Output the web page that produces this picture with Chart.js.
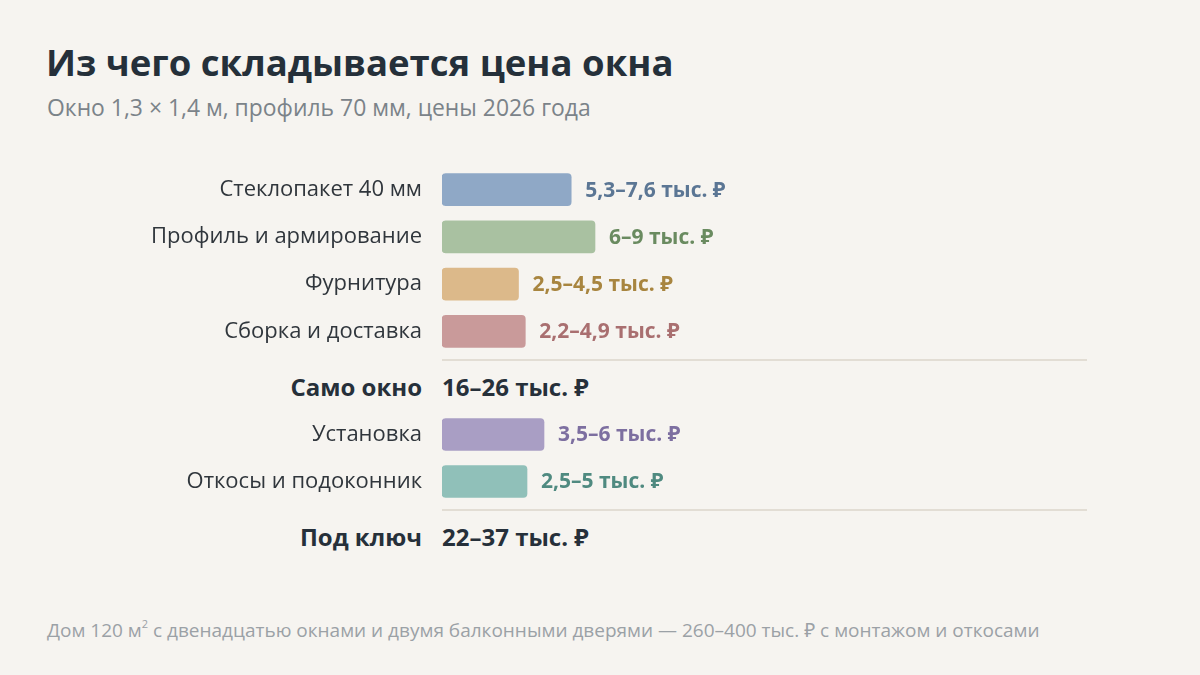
<!DOCTYPE html>
<html lang="ru">
<head>
<meta charset="utf-8">
<script src="https://cdn.jsdelivr.net/npm/chart.js@4.4.1/dist/chart.umd.min.js"></script>
<style>
  html, body { margin: 0; padding: 0; }
  body { width: 1200px; height: 675px; background: #f6f4f0; position: relative; overflow: hidden; font-family: "Open Sans", "Noto Sans", sans-serif; }
  .abs { position: absolute; white-space: nowrap; line-height: 1; }
  #title { left: 46px; top: 44px; font-size: 36.5px; font-weight: 700; color: #25303a; }
  #subtitle { left: 47px; top: 97px; font-size: 22.9px; color: #7b8389; }
  #footer { left: 47px; top: 618px; font-size: 19px; color: #9ba1a6; }
  .sep { position: absolute; left: 442px; width: 645px; height: 2px; background: #e2ddd4; }
  .totLabel { position: absolute; right: 778px; font-size: 24px; font-weight: 700; color: #26303a; white-space: nowrap; line-height: 1; }
  .totValue { position: absolute; left: 442px; font-size: 24px; font-weight: 700; color: #26303a; white-space: nowrap; line-height: 1; }
  .box { position: absolute; left: 0; width: 1088px; }
</style>
</head>
<body>
<div id="title" class="abs">Из чего складывается цена окна</div>
<div id="subtitle" class="abs">Окно 1,3 × 1,4 м, профиль 70 мм, цены 2026 года</div>

<div class="box" id="b1"><canvas id="c1"></canvas></div>
<div class="sep" style="top:359px"></div>
<div class="totLabel" id="tl1" style="top:375px"></div>
<div class="totValue" id="tv1" style="top:375px"></div>
<div class="box" id="b2"><canvas id="c2"></canvas></div>
<div class="sep" style="top:509px"></div>
<div class="totLabel" id="tl2" style="top:525px"></div>
<div class="totValue" id="tv2" style="top:525px"></div>

<div id="footer" class="abs">Дом 120 м<sup style="font-size:11px;vertical-align:9px">2</sup> с двенадцатью окнами и двумя балконными дверями — 260–400 тыс. ₽ с монтажом и откосами</div>

<script>
// ---- data ----
const windowParts = ["Стеклопакет 40 мм", "Профиль и армирование", "Фурнитура", "Сборка и доставка"];
const windowLow  = [5.3, 6, 2.5, 2.2];
const windowHigh = [7.6, 9, 4.5, 4.9];
const windowFill = ["#8fa8c6", "#a9c1a1", "#dcb98a", "#c99a9a"];
const windowText = ["#5b7694", "#6a8b60", "#a8853f", "#a96f70"];

const extraParts = ["Установка", "Откосы и подоконник"];
const extraLow  = [3.5, 2.5];
const extraHigh = [6, 5];
const extraFill = ["#a99ec4", "#90c0b9"];
const extraText = ["#7d6fa0", "#4f8a80"];

const totalLabels = ["Само окно", "Под ключ"];
const totalLow  = [16, 22];
const totalHigh = [26, 37];

const axisMax = 38;
// ---------------

function fmt(v) { return String(v).replace(".", ","); }
function rangeText(lo, hi) { return fmt(lo) + "–" + fmt(hi) + " тыс. ₽"; }

document.getElementById("tl1").textContent = totalLabels[0];
document.getElementById("tv1").textContent = rangeText(totalLow[0], totalHigh[0]);
document.getElementById("tl2").textContent = totalLabels[1];
document.getElementById("tv2").textContent = rangeText(totalLow[1], totalHigh[1]);

const FONT = '"Open Sans", "Noto Sans", sans-serif';

const valueLabels = {
  id: "valueLabels",
  afterDatasetsDraw(chart, args, opts) {
    const ctx = chart.ctx;
    const meta = chart.getDatasetMeta(0);
    ctx.save();
    ctx.font = "700 21px " + FONT;
    ctx.textAlign = "left";
    ctx.textBaseline = "middle";
    meta.data.forEach((bar, i) => {
      ctx.fillStyle = opts.colors[i];
      ctx.fillText(rangeText(opts.low[i], opts.high[i]), bar.x + 14, bar.y + 1);
    });
    ctx.restore();
  }
};

function makeChart(boxId, id, top, labels, low, high, fill, text) {
  const rowH = 47.2;
  const h = Math.round(rowH * labels.length);
  const box = document.getElementById(boxId);
  box.style.top = top + "px";
  box.style.height = h + "px";
  return new Chart(document.getElementById(id), {
    type: "bar",
    data: {
      labels: labels,
      datasets: [{
        data: high,
        backgroundColor: fill,
        borderRadius: 4,
        borderSkipped: false,
        barThickness: 32
      }]
    },
    options: {
      indexAxis: "y",
      responsive: true,
      maintainAspectRatio: false,
      animation: false,
      layout: { padding: 0 },
      plugins: {
        legend: { display: false },
        tooltip: { enabled: false },
        valueLabels: { low: low, high: high, colors: text }
      },
      scales: {
        x: { display: false, min: 0, max: axisMax },
        y: {
          grid: { display: false, drawTicks: false },
          border: { display: false },
          ticks: { padding: 20, color: "#30363c", font: { family: FONT, size: 22 } },
          afterFit(scale) {
            scale.width = 442;
            scale.paddingTop = 0;
            scale.paddingBottom = 0;
          }
        }
      }
    },
    plugins: [valueLabels]
  });
}

makeChart("b1", "c1", 166, windowParts, windowLow, windowHigh, windowFill, windowText);
makeChart("b2", "c2", 411, extraParts, extraLow, extraHigh, extraFill, extraText);
</script>
</body>
</html>
